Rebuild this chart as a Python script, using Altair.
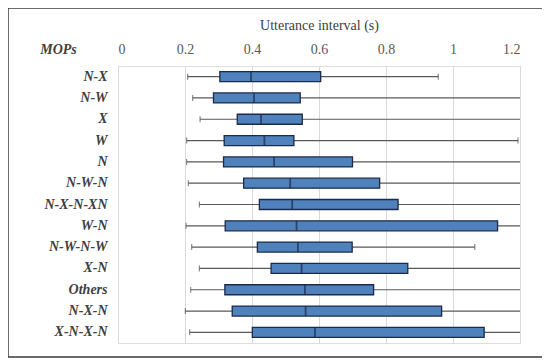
import altair as alt
import pandas as pd

categories = ["N-X", "N-W", "X", "W", "N", "N-W-N", "N-X-N-XN", "W-N",
              "N-W-N-W", "X-N", "Others", "N-X-N", "X-N-X-N"]
whisker_low = [0.208, 0.223, 0.245, 0.205, 0.205, 0.210, 0.243, 0.203,
               0.220, 0.243, 0.217, 0.201, 0.214]
q1 = [0.304, 0.285, 0.356, 0.317, 0.315, 0.375, 0.422, 0.320,
      0.416, 0.457, 0.319, 0.341, 0.401]
median = [0.397, 0.406, 0.427, 0.437, 0.466, 0.514, 0.520, 0.533,
          0.537, 0.548, 0.558, 0.560, 0.588]
q3 = [0.605, 0.544, 0.550, 0.525, 0.700, 0.781, 0.836, 1.133,
      0.699, 0.865, 0.763, 0.966, 1.093]
whisker_high = [0.956, 1.30, 1.30, 1.194, 1.30, 1.30, 1.30, 1.30,
                1.065, 1.30, 1.30, 1.30, 1.30]
tick_values = [0, 0.1, 0.2, 0.3, 0.4, 0.5, 0.6, 0.7, 0.8, 0.9, 1.0, 1.1, 1.2]

df = pd.DataFrame({
    "MOPs": categories, "lo": whisker_low, "q1": q1, "med": median,
    "q3": q3, "hi": whisker_high,
})

FONT = "Liberation Serif, DejaVu Serif"

xscale = alt.Scale(domain=[0, 1.2], nice=False, zero=True)
yenc = alt.Y(
    "MOPs:N", sort=categories,
    scale=alt.Scale(paddingInner=0.3, paddingOuter=0.15),
    axis=alt.Axis(
        title="MOPs", titleAngle=0, titleX=-60, titleY=-17, titleAlign="center",
        titleBaseline="middle", titleFont=FONT, titleFontSize=14,
        titleFontStyle="italic", titleFontWeight="bold", titleColor="#404040",
        labelFont=FONT, labelFontSize=14, labelFontStyle="italic",
        labelFontWeight="bold", labelColor="#404040", labelPadding=11,
        ticks=False, domain=False, grid=False,
    ),
)

xaxis = alt.Axis(
    orient="top", values=tick_values, format="~g",
    labelExpr="(round(datum.value*10) % 2 == 0) ? datum.label : ''",
    title="Utterance interval (s)", titleFont=FONT, titleFontSize=14,
    titleFontWeight="normal", titleColor="#404040", titlePadding=10,
    labelFont=FONT, labelFontSize=14, labelColor="#595959", labelPadding=10,
    ticks=False, domain=False, grid=True, gridColor="#d9d9d9", gridWidth=1,
)

base = alt.Chart(df)

whisk = base.mark_rule(color="#595959", strokeWidth=1.2, clip=True).encode(
    x=alt.X("lo:Q", scale=xscale, axis=xaxis), x2="hi:Q", y=yenc
)
cap_lo = base.mark_tick(color="#595959", thickness=1.2, size=6, clip=True).encode(
    x="lo:Q", y=alt.Y("MOPs:N", sort=categories)
)
cap_hi = base.mark_tick(color="#595959", thickness=1.2, size=6, clip=True).encode(
    x="hi:Q", y=alt.Y("MOPs:N", sort=categories)
)
box = base.mark_bar(size=10, color="#4F81BD", stroke="#1c2a48",
                    strokeWidth=1.3, clip=True).encode(
    x="q1:Q", x2="q3:Q", y=alt.Y("MOPs:N", sort=categories)
)
med = base.mark_tick(color="#1c2a48", thickness=1.8, size=10).encode(
    x="med:Q", y=alt.Y("MOPs:N", sort=categories)
)

one = pd.DataFrame({"a": [0]})
L, R, T, B = -110, 425, -58, 291
bstyle = dict(color="#3a3a3a", strokeWidth=1.5)
b_top = alt.Chart(one).mark_rule(**bstyle).encode(
    x=alt.value(L), x2=alt.value(R), y=alt.value(T))
b_bot = alt.Chart(one).mark_rule(**bstyle).encode(
    x=alt.value(L), x2=alt.value(R), y=alt.value(B))
b_left = alt.Chart(one).mark_rule(**bstyle).encode(
    x=alt.value(L), y=alt.value(T), y2=alt.value(B))
b_right = alt.Chart(one).mark_rule(**bstyle).encode(
    x=alt.value(R), y=alt.value(T), y2=alt.value(B))

chart = alt.layer(whisk, cap_lo, cap_hi, box, med,
                  b_top, b_bot, b_left, b_right).properties(
    width=402, height=277,
    autosize=alt.AutoSizeParams(type="none"),
    padding={"left": 110, "top": 58, "right": 22, "bottom": 17},
).configure_view(stroke="#d9d9d9", strokeWidth=1).configure(
    background="white", font=FONT
)

chart.save("out.html", embed_options={"renderer": "svg", "actions": False})
